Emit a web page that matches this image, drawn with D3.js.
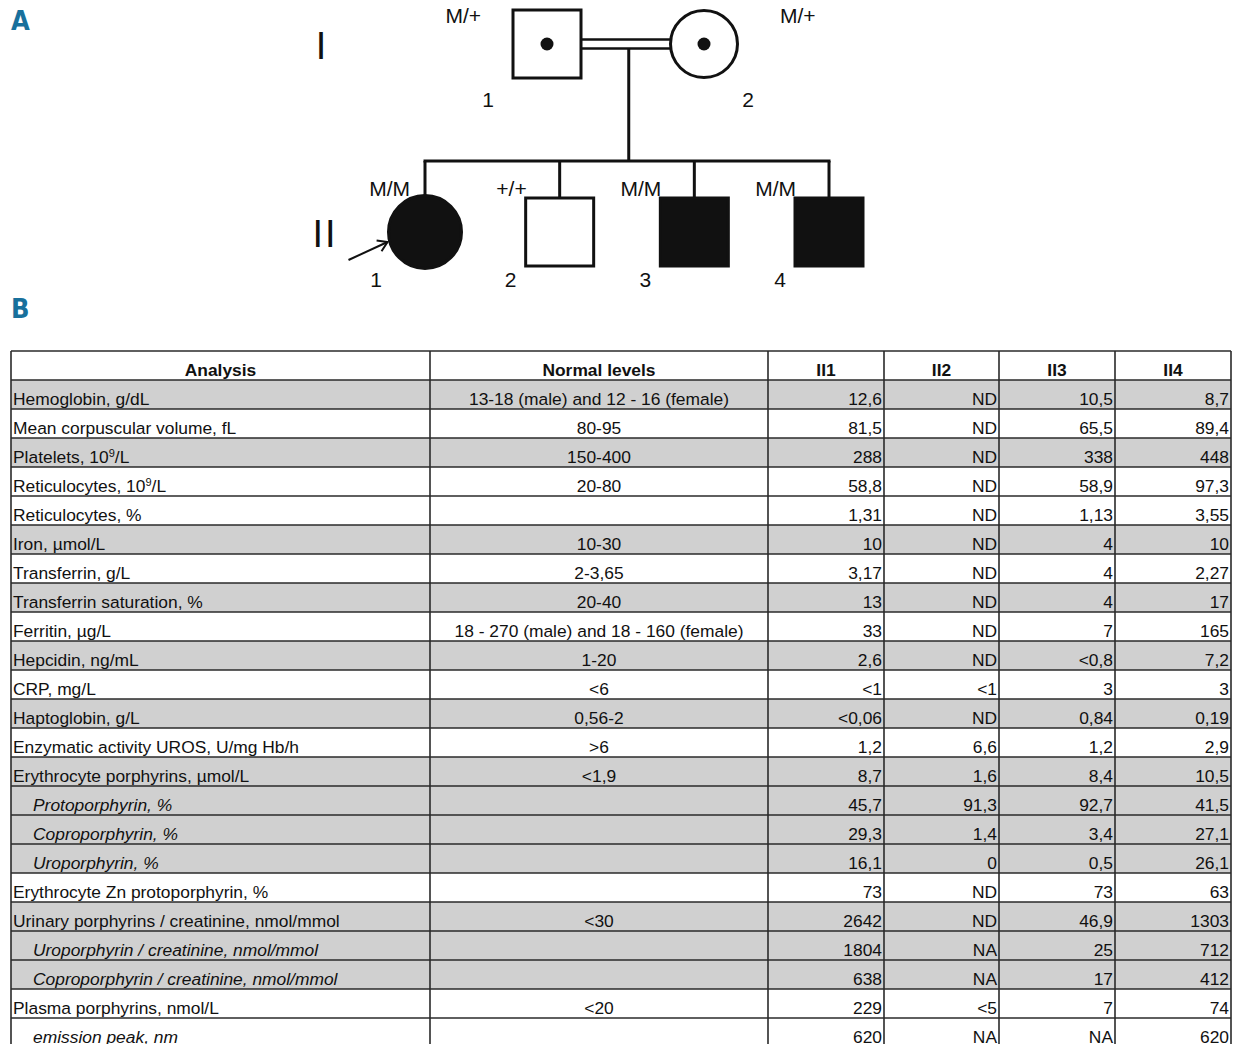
<!DOCTYPE html>
<html>
<head>
<meta charset="utf-8">
<script src="https://cdn.jsdelivr.net/npm/d3@7"></script>
<style>
  body { margin: 0; background: #fff; }
  svg { display: block; }
</style>
</head>
<body>
<svg id="fig" width="1234" height="1044"></svg>
<script>
// ---------- Pedigree (panel A) ----------
const generations = ["I", "II"];

const genIIds = ["1", "2"];
const genISex = ["male", "female"];
const genIGenotype = ["M/+", "M/+"];
const genIStatus = ["carrier", "carrier"];

const genIIIds = ["1", "2", "3", "4"];
const genIISex = ["female", "male", "male", "male"];
const genIIGenotype = ["M/M", "+/+", "M/M", "M/M"];
const genIIStatus = ["affected", "unaffected", "affected", "affected"];
const proband = "1";

// ---------- Laboratory table (panel B) ----------
const columnHeaders = ["Analysis", "Normal levels", "II1", "II2", "II3", "II4"];

const analyses = [
  "Hemoglobin, g/dL",
  "Mean corpuscular volume, fL",
  "Platelets, 10⁹/L",
  "Reticulocytes, 10⁹/L",
  "Reticulocytes, %",
  "Iron, µmol/L",
  "Transferrin, g/L",
  "Transferrin saturation, %",
  "Ferritin, µg/L",
  "Hepcidin, ng/mL",
  "CRP, mg/L",
  "Haptoglobin, g/L",
  "Enzymatic activity UROS, U/mg Hb/h",
  "Erythrocyte porphyrins, µmol/L",
  "Protoporphyrin, %",
  "Coproporphyrin, %",
  "Uroporphyrin, %",
  "Erythrocyte Zn protoporphyrin, %",
  "Urinary porphyrins / creatinine, nmol/mmol",
  "Uroporphyrin / creatinine, nmol/mmol",
  "Coproporphyrin / creatinine, nmol/mmol",
  "Plasma porphyrins, nmol/L",
  "emission peak, nm"
];

const normalLevels = [
  "13-18 (male) and 12 - 16 (female)", "80-95", "150-400", "20-80", "",
  "10-30", "2-3,65", "20-40", "18 - 270 (male) and 18 - 160 (female)", "1-20",
  "<6", "0,56-2", ">6", "<1,9", "", "", "", "", "<30", "", "", "<20", ""
];

const valuesII1 = ["12,6", "81,5", "288", "58,8", "1,31", "10", "3,17", "13", "33", "2,6",
  "<1", "<0,06", "1,2", "8,7", "45,7", "29,3", "16,1", "73", "2642", "1804", "638", "229", "620"];
const valuesII2 = ["ND", "ND", "ND", "ND", "ND", "ND", "ND", "ND", "ND", "ND",
  "<1", "ND", "6,6", "1,6", "91,3", "1,4", "0", "ND", "ND", "NA", "NA", "<5", "NA"];
const valuesII3 = ["10,5", "65,5", "338", "58,9", "1,13", "4", "4", "4", "7", "<0,8",
  "3", "0,84", "1,2", "8,4", "92,7", "3,4", "0,5", "73", "46,9", "25", "17", "7", "NA"];
const valuesII4 = ["8,7", "89,4", "448", "97,3", "3,55", "10", "2,27", "17", "165", "7,2",
  "3", "0,19", "2,9", "10,5", "41,5", "27,1", "26,1", "63", "1303", "712", "412", "74", "620"];

// sub-measures are set in italics and indented under their parent row
const subRows = new Set([14, 15, 16, 19, 20, 22]);
const shadedRows = new Set([0, 2, 5, 7, 9, 11, 13, 14, 15, 16, 18, 19, 20]);

const svg = d3.select("#fig");
svg.append("rect").attr("width", 1234).attr("height", 1044).attr("fill", "#ffffff");

const ink = "#111";
const sans = "'Liberation Sans', Arial, sans-serif";
const panelColor = "#18709c";

// Panel letters
svg.selectAll("text.panel")
  .data([{ t: "A", y: 30 }, { t: "B", y: 318 }])
  .join("text")
  .attr("class", "panel")
  .attr("x", 11).attr("y", d => d.y)
  .attr("font-family", "'Liberation Sans Narrow', 'DejaVu Sans Condensed', sans-serif")
  .attr("font-weight", "bold").attr("font-size", 27)
  .attr("fill", panelColor)
  .text(d => d.t);

// ---------- Pedigree drawing ----------
const ped = svg.append("g");
const yGen = d3.scalePoint().domain(generations).range([44, 232]);
const xI = d3.scalePoint().domain(genIIds).range([547, 704]);
const xII = d3.scalePoint().domain(genIIIds).range([425, 829]);

const genI = genIIds.map((id, i) => ({ id, sex: genISex[i], genotype: genIGenotype[i], status: genIStatus[i], x: xI(id), y: yGen("I"), gen: "I" }));
const genII = genIIIds.map((id, i) => ({ id, sex: genIISex[i], genotype: genIIGenotype[i], status: genIIStatus[i], x: xII(id), y: yGen("II"), gen: "II" }));

const sq = 68;                       // square side
const rad = { I: 33.5, II: 36.5 };   // circle radius per generation
const halfH = d => d.sex === "male" ? sq / 2 : rad[d.gen];
const halfW = halfH;

const lineW = 3;

// generation labels
ped.selectAll("text.gen")
  .data(generations)
  .join("text")
  .attr("class", "gen")
  .attr("x", g => g === "II" ? 325 : 321).attr("y", g => yGen(g) + 15)
  .attr("text-anchor", "middle")
  .attr("font-family", sans).attr("font-size", 38).attr("fill", ink)
  .attr("letter-spacing", g => g === "II" ? 2 : 0)
  .text(g => g);

// consanguineous mating: double line between the parents
const father = genI[0], mother = genI[1];
const mateX0 = father.x + halfW(father), mateX1 = mother.x - halfW(mother);
[-4.5, 4.5].forEach(dy => {
  ped.append("line")
    .attr("x1", mateX0).attr("x2", mateX1)
    .attr("y1", father.y + dy).attr("y2", father.y + dy)
    .attr("stroke", ink).attr("stroke-width", 2.5);
});

// descent and sibship lines
const descentX = (mateX0 + mateX1) / 2 + 3;
const sibY = 161;
ped.append("line")
  .attr("x1", descentX).attr("x2", descentX)
  .attr("y1", father.y + 4.5).attr("y2", sibY)
  .attr("stroke", ink).attr("stroke-width", lineW);
ped.append("line")
  .attr("x1", d3.min(genII, d => d.x) - lineW / 2).attr("x2", d3.max(genII, d => d.x) + lineW / 2)
  .attr("y1", sibY).attr("y2", sibY)
  .attr("stroke", ink).attr("stroke-width", lineW);
ped.selectAll("line.drop")
  .data(genII)
  .join("line")
  .attr("class", "drop")
  .attr("x1", d => d.x).attr("x2", d => d.x)
  .attr("y1", sibY).attr("y2", d => d.y - halfH(d))
  .attr("stroke", ink).attr("stroke-width", lineW);

// individuals
const people = genI.concat(genII);
const fillOf = d => d.status === "affected" ? ink : "#fff";
const sym = ped.selectAll("g.person").data(people).join("g").attr("class", "person")
  .attr("transform", d => `translate(${d.x},${d.y})`);
sym.filter(d => d.sex === "male").append("rect")
  .attr("x", -sq / 2).attr("y", -sq / 2).attr("width", sq).attr("height", sq)
  .attr("fill", fillOf).attr("stroke", ink).attr("stroke-width", lineW);
sym.filter(d => d.sex === "female").append("circle")
  .attr("r", d => rad[d.gen])
  .attr("fill", fillOf).attr("stroke", ink).attr("stroke-width", lineW);
sym.filter(d => d.status === "carrier").append("circle")
  .attr("r", 6.5).attr("fill", ink);

// genotype labels
const pedFont = 21;
ped.selectAll("text.geno")
  .data(people)
  .join("text")
  .attr("class", "geno")
  .attr("font-family", sans).attr("font-size", pedFont).attr("fill", ink)
  .attr("text-anchor", d => d.gen === "I" && d.sex === "female" ? "start" : "end")
  .attr("x", d => {
    if (d.gen === "I") return d.sex === "male" ? d.x - 66 : d.x + 76;
    return d.sex === "female" ? d.x - 15 : d.x - 33;
  })
  .attr("y", d => d.gen === "I" ? 23 : 196)
  .text(d => d.genotype);

// individual numbers
ped.selectAll("text.num")
  .data(people)
  .join("text")
  .attr("class", "num")
  .attr("font-family", sans).attr("font-size", pedFont).attr("fill", ink)
  .attr("text-anchor", "middle")
  .attr("x", d => d.gen === "I" ? (d.sex === "male" ? d.x - 59 : d.x + 44) : d.x - 49)
  .attr("y", d => d.gen === "I" ? 107 : 287)
  .text(d => d.id);

// proband arrow
const pb = genII.find(d => d.id === proband);
const tip = [pb.x - rad.II - 1, pb.y + 10];
const tail = [tip[0] - 39, tip[1] + 18];
const ang = Math.atan2(tip[1] - tail[1], tip[0] - tail[0]);
ped.append("line")
  .attr("x1", tail[0]).attr("y1", tail[1]).attr("x2", tip[0]).attr("y2", tip[1])
  .attr("stroke", ink).attr("stroke-width", 2);
ped.append("path")
  .attr("d", () => {
    const a1 = ang + Math.PI * 0.82, a2 = ang - Math.PI * 0.82, L = 11;
    return `M${tip[0] + L * Math.cos(a1)},${tip[1] + L * Math.sin(a1)}L${tip[0]},${tip[1]}L${tip[0] + L * Math.cos(a2)},${tip[1] + L * Math.sin(a2)}`;
  })
  .attr("fill", "none").attr("stroke", ink).attr("stroke-width", 2);

// ---------- Table drawing ----------
const tbl = svg.append("g");
const colEdges = [11, 430, 768, 884, 999, 1115, 1231];
const rowIdx = d3.range(-1, analyses.length);
const rowH = 29;
const yRow = d3.scaleBand().domain(rowIdx).range([351, 351 + rowIdx.length * rowH]).paddingInner(0);

const valueCols = [valuesII1, valuesII2, valuesII3, valuesII4];
const rows = analyses.map((a, i) => ({
  i, label: a, normal: normalLevels[i],
  vals: valueCols.map(c => c[i])
}));

// shading
tbl.selectAll("rect.shade")
  .data(rows.filter(r => shadedRows.has(r.i)))
  .join("rect")
  .attr("class", "shade")
  .attr("x", colEdges[0]).attr("width", colEdges[colEdges.length - 1] - colEdges[0])
  .attr("y", r => yRow(r.i)).attr("height", yRow.bandwidth())
  .attr("fill", "#d0d0d0");

const tFont = 17.4;
const baseOff = 24.5;

// header
tbl.selectAll("text.head")
  .data(columnHeaders)
  .join("text")
  .attr("class", "head")
  .attr("x", (h, j) => (colEdges[j] + colEdges[j + 1]) / 2)
  .attr("y", yRow(-1) + baseOff)
  .attr("text-anchor", "middle")
  .attr("font-family", sans).attr("font-weight", "bold").attr("font-size", tFont).attr("fill", ink)
  .text(h => h);

// analysis labels (with superscript exponent)
const lab = tbl.selectAll("text.lab")
  .data(rows)
  .join("text")
  .attr("class", "lab")
  .attr("x", r => colEdges[0] + (subRows.has(r.i) ? 22 : 2))
  .attr("y", r => yRow(r.i) + baseOff)
  .attr("font-family", sans).attr("font-size", tFont).attr("fill", ink)
  .attr("font-style", r => subRows.has(r.i) ? "italic" : "normal");
lab.each(function (r) {
  const parts = r.label.split("⁹");
  const t = d3.select(this);
  parts.forEach((p, k) => {
    t.append("tspan").text(p).attr("dy", k > 0 ? 6 : null);
    if (k < parts.length - 1) {
      t.append("tspan").text("9").attr("font-size", 11).attr("dy", -6);
    }
  });
});

// normal levels
tbl.selectAll("text.norm")
  .data(rows)
  .join("text")
  .attr("class", "norm")
  .attr("x", (colEdges[1] + colEdges[2]) / 2)
  .attr("y", r => yRow(r.i) + baseOff)
  .attr("text-anchor", "middle")
  .attr("font-family", sans).attr("font-size", tFont).attr("fill", ink)
  .text(r => r.normal);

// patient values, right aligned
valueCols.forEach((col, j) => {
  tbl.selectAll(`text.val${j}`)
    .data(rows)
    .join("text")
    .attr("class", `val${j}`)
    .attr("x", colEdges[j + 3] - 2)
    .attr("y", r => yRow(r.i) + baseOff)
    .attr("text-anchor", "end")
    .attr("font-family", sans).attr("font-size", tFont).attr("fill", ink)
    .text(r => r.vals[j]);
});

// grid
const gridColor = "#2a2a2a";
const yTop = yRow(-1), yBot = yRow.range()[1];
tbl.selectAll("line.h")
  .data(rowIdx.concat([analyses.length]))
  .join("line")
  .attr("class", "h")
  .attr("x1", colEdges[0]).attr("x2", colEdges[colEdges.length - 1])
  .attr("y1", i => i < analyses.length ? yRow(i) : yBot)
  .attr("y2", i => i < analyses.length ? yRow(i) : yBot)
  .attr("stroke", gridColor).attr("stroke-width", 1.6);
tbl.selectAll("line.v")
  .data(colEdges)
  .join("line")
  .attr("class", "v")
  .attr("x1", x => x).attr("x2", x => x)
  .attr("y1", yTop).attr("y2", yBot)
  .attr("stroke", gridColor).attr("stroke-width", 1.6);
</script>
</body>
</html>
